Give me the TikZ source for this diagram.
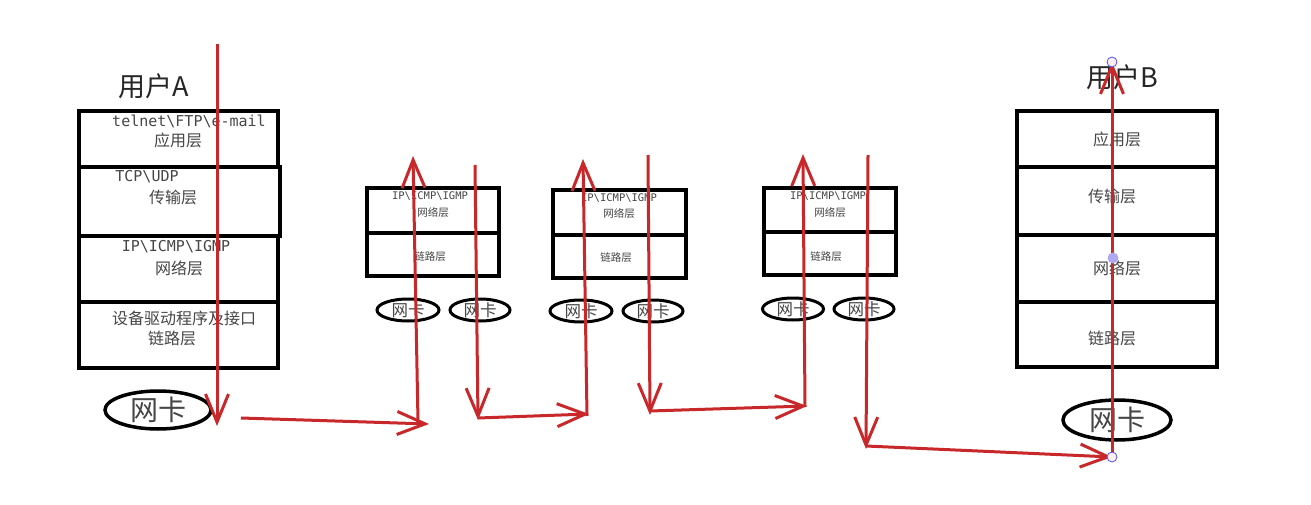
\documentclass[tikz,border=0pt]{standalone}
\usepackage{fontspec}
\newfontfamily\cjk{Noto Sans CJK SC}
\newfontfamily\mono{DejaVu Sans Mono}
\usetikzlibrary{arrows.meta,shapes.geometric}
\definecolor{arrowred}{RGB}{200,40,42}
\definecolor{txtgray}{RGB}{70,70,70}
\definecolor{ptblue}{RGB}{80,80,240}
\definecolor{ptfill}{RGB}{250,238,240}
\definecolor{ptmid}{RGB}{176,168,240}
\begin{document}
\begin{tikzpicture}[x=1pt,y=-1pt,
  layer/.style={draw=black,line width=4pt,rectangle,inner sep=0pt},
  rlayer/.style={draw=black,line width=3.5pt,rectangle,inner sep=0pt},
  nic/.style={draw=black,ellipse,line width=3.5pt,inner sep=0pt,font=\cjk\fontsize{28}{28}\selectfont,text=txtgray},
  rnic/.style={draw=black,ellipse,line width=3pt,inner sep=0pt,minimum height=22pt,font=\cjk\fontsize{16.5}{16.5}\selectfont,text=txtgray},
  cn/.style={font=\cjk\fontsize{16}{16}\selectfont,text=txtgray,inner sep=0pt},
  rcn/.style={font=\cjk\fontsize{10.5}{10.5}\selectfont,text=txtgray,inner sep=0pt},
  mn/.style={font=\mono\fontsize{15}{15}\selectfont,text=txtgray,inner sep=0pt},
  rmn/.style={font=\mono\fontsize{10.5}{10.5}\selectfont,text=txtgray,inner sep=0pt},
  user/.style={font=\cjk\fontsize{27}{27}\selectfont,text=black!85,inner sep=0pt},
  flow/.style={draw=arrowred,line width=3pt,-{Straight Barb[length=28pt,width=23pt,line width=3pt]}},
  pt/.style={circle,draw=ptblue,fill=ptfill,line width=0.8pt,minimum size=10pt,inner sep=0pt},
  ptm/.style={circle,fill=ptmid,minimum size=11pt,inner sep=0pt}]
\useasboundingbox[fill=white] (0,0) rectangle (1311,505);

% ---------- User A ----------
\node[user] (userA) at (154,86) {用户A};
\node[layer,minimum width=199pt,minimum height=56pt] (a1) at (178.5,139) {};
\node[layer,minimum width=201pt,minimum height=69pt] (a2) at (179.5,201.5) {};
\node[layer,minimum width=199pt,minimum height=66pt] (a3) at (178.5,269) {};
\node[layer,minimum width=199pt,minimum height=66pt] (a4) at (178.5,335) {};
\node[mn] (ta1) at (189,121) {telnet\textbackslash FTP\textbackslash e-mail};
\node[cn] (ta2) at (178,140) {应用层};
\node[mn] (ta3) at (147,177) {TCP\textbackslash UDP};
\node[cn] (ta4) at (173,197) {传输层};
\node[mn] (ta5) at (176,247) {IP\textbackslash ICMP\textbackslash IGMP};
\node[cn] (ta6) at (179,268) {网络层};
\node[cn] (ta7) at (184,318) {设备驱动程序及接口};
\node[cn] (ta8) at (172,338) {链路层};
\node[nic,minimum width=106pt,minimum height=38pt] (nicA) at (158,410) {网卡};

% ---------- Router 1 ----------
\node[rlayer,minimum width=132pt,minimum height=45pt] (r1a) at (433,210.5) {};
\node[rlayer,minimum width=132pt,minimum height=43pt] (r1b) at (433,254.5) {};
\node[rmn] (r1t1) at (430,196) {IP\textbackslash ICMP\textbackslash IGMP};
\node[rcn] (r1t2) at (433,212) {网络层};
\node[rcn] (r1t3) at (430,257) {链路层};
\node[rnic,minimum width=62pt] (r1n1) at (408,310) {网卡};
\node[rnic,minimum width=60pt] (r1n2) at (480,310) {网卡};

% ---------- Router 2 ----------
\node[rlayer,minimum width=133pt,minimum height=45pt] (r2a) at (619.5,212.5) {};
\node[rlayer,minimum width=133pt,minimum height=43pt] (r2b) at (619.5,256.5) {};
\node[rmn] (r2t1) at (619,198) {IP\textbackslash ICMP\textbackslash IGMP};
\node[rcn] (r2t2) at (619,213) {网络层};
\node[rcn] (r2t3) at (616,258) {链路层};
\node[rnic,minimum width=62pt] (r2n1) at (581,311) {网卡};
\node[rnic,minimum width=60pt] (r2n2) at (653,311) {网卡};

% ---------- Router 3 ----------
\node[rlayer,minimum width=132pt,minimum height=44pt] (r3a) at (830,210) {};
\node[rlayer,minimum width=132pt,minimum height=43pt] (r3b) at (830,253.5) {};
\node[rmn] (r3t1) at (828,196) {IP\textbackslash ICMP\textbackslash IGMP};
\node[rcn] (r3t2) at (830,212) {网络层};
\node[rcn] (r3t3) at (826,257) {链路层};
\node[rnic,minimum width=61pt] (r3n1) at (793,309) {网卡};
\node[rnic,minimum width=60pt] (r3n2) at (864,309) {网卡};

% ---------- User B ----------
\node[user] (userB) at (1122,77) {用户B};
\node[layer,minimum width=200pt,minimum height=56pt] (b1) at (1117,139) {};
\node[layer,minimum width=200pt,minimum height=68pt] (b2) at (1117,201) {};
\node[layer,minimum width=200pt,minimum height=67pt] (b3) at (1117,268.5) {};
\node[layer,minimum width=200pt,minimum height=65pt] (b4) at (1117,334.5) {};
\node[cn] (tb1) at (1117,139) {应用层};
\node[cn] (tb2) at (1112,196) {传输层};
\node[cn] (tb3) at (1117,268) {网络层};
\node[cn] (tb4) at (1112,338) {链路层};
\node[nic,minimum width=108pt,minimum height=40pt] (nicB) at (1117,420) {网卡};

% ---------- flow coordinates ----------
\coordinate (s0) at (217,44);   \coordinate (e0) at (217,426);
\coordinate (s1) at (241,418);  \coordinate (e1) at (429,424);
\coordinate (s2) at (418,422);  \coordinate (e2) at (413,156);
\coordinate (s3) at (475,165);  \coordinate (e3) at (478,420);
\coordinate (s4) at (478,418);  \coordinate (e4) at (589,414);
\coordinate (s5) at (587,416);  \coordinate (e5) at (583,159);
\coordinate (s6) at (648,155);  \coordinate (e6) at (650,415);
\coordinate (s7) at (650,411);  \coordinate (e7) at (807,406);
\coordinate (s8) at (805,407);  \coordinate (e8) at (803,154);
\coordinate (s9) at (868,155);  \coordinate (e9) at (866,449);
\coordinate (s10) at (866,446);
\coordinate (bBot) at (1112,457);
\coordinate (bTop) at (1112,62);

\draw[flow] (s0) -- (e0);
\draw[flow] (s1) -- (e1);
\draw[flow] (s2) -- (e2);
\draw[flow] (s3) -- (e3);
\draw[flow] (s4) -- (e4);
\draw[flow] (s5) -- (e5);
\draw[flow] (s6) -- (e6);
\draw[flow] (s7) -- (e7);
\draw[flow] (s8) -- (e8);
\draw[flow] (s9) -- (e9);
\draw[flow] (s10) -- (bBot);
\draw[flow] (bBot) -- (bTop);

\node[pt] (p1) at (bTop) {};
\node[pt] (p2) at (bBot) {};
\node[ptm] (p3) at (1113,258) {};
\end{tikzpicture}
\end{document}
